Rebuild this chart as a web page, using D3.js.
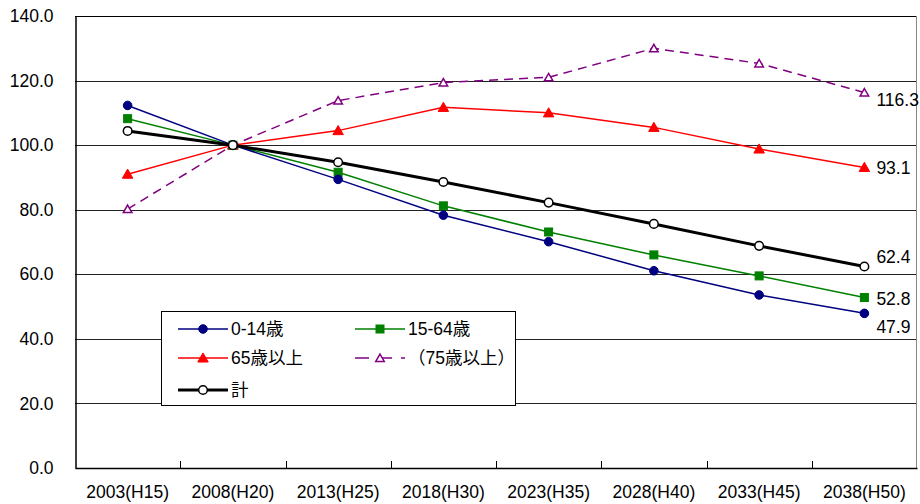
<!DOCTYPE html>
<html><head><meta charset="utf-8">
<script src="https://cdn.jsdelivr.net/npm/d3@7"></script>
<style>
body{margin:0;background:#fff;}
text{font-family:"Liberation Sans",Arial,"Noto Sans CJK JP",sans-serif;fill:#000;}
</style></head>
<body><svg id="c" width="920" height="504"></svg>
<script>
const categories = ["2003(H15)","2008(H20)","2013(H25)","2018(H30)","2023(H35)","2028(H40)","2033(H45)","2038(H50)"];
const yTicks = [0,20,40,60,80,100,120,140];
const age0_14  = [112.3,100,89.4,78.3,70.1,61.1,53.6,47.9];
const age15_64 = [108.2,100,91.6,81.2,73.1,66.0,59.5,52.8];
const age65    = [91.0,100,104.5,111.7,110.0,105.5,98.8,93.1];
const age75    = [80.2,100,113.8,119.4,121.0,130.0,125.3,116.3];
const total    = [104.4,100,94.7,88.6,82.2,75.6,68.8,62.4];
const seriesNames = ["0-14歳","15-64歳","65歳以上","（75歳以上）","計"];

const series = [
  {name:seriesNames[0], v:age0_14, color:"#000080", w:1.5, marker:"circle", fill:"#000080", dash:null, lab:{dy:14}},
  {name:seriesNames[1], v:age15_64, color:"#008000", w:1.5, marker:"square", fill:"#008000", dash:null, lab:{dy:1}},
  {name:seriesNames[2], v:age65, color:"#ff0000", w:1.5, marker:"triangle", fill:"#ff0000", dash:null, lab:{dy:0}},
  {name:seriesNames[3], v:age75, color:"#800080", w:1.5, marker:"triangle", fill:"#fff", dash:"9,6", lab:{dy:7}},
  {name:seriesNames[4], v:total, color:"#000", w:3, marker:"circle", fill:"#fff", dash:null, lab:{dy:-10}}
];

const FS = 17.5;
const svg = d3.select("#c");
const L=75, R=917, T=16, B=468;
const x = d3.scaleBand().domain(categories).range([L,R]);
const y = d3.scaleLinear().domain([0,140]).range([B,T]);

// gridlines
svg.append("g").selectAll("line").data(yTicks.filter(d=>d>0)).join("line")
  .attr("x1",L).attr("x2",R).attr("y1",d=>Math.round(y(d))+0.5).attr("y2",d=>Math.round(y(d))+0.5)
  .attr("stroke",d=>d===140?"#000":"#222").attr("stroke-width",1);
// right border
svg.append("line").attr("x1",R-0.5).attr("x2",R-0.5).attr("y1",T).attr("y2",B).attr("stroke","#888");

// y axis
const ya = svg.append("g").attr("transform",`translate(${L+0.5},0)`)
  .call(d3.axisLeft(y).tickValues(yTicks).tickFormat(d3.format(".1f")).tickSize(0).tickPadding(22));
ya.select(".domain").attr("stroke","#000").attr("stroke-width",1.5);
ya.selectAll("text").attr("font-size",FS);

// x axis
const xa = svg.append("g").attr("transform",`translate(0,${B})`)
  .call(d3.axisBottom(x).tickSize(0).tickPadding(0));
xa.select(".domain").attr("stroke","#000").attr("stroke-width",1.5);
xa.selectAll("text").attr("font-size",FS).attr("dy",null).attr("y",30);
// inner ticks at band boundaries
svg.append("g").selectAll("line").data(categories.slice(1)).join("line")
  .attr("x1",d=>Math.round(x(d))+0.5).attr("x2",d=>Math.round(x(d))+0.5)
  .attr("y1",B).attr("y2",B-7).attr("stroke","#000");

const cx = d=>x(d)+x.bandwidth()/2;
const line = d3.line().x((d,i)=>cx(categories[i])).y(d=>y(d));

function drawMarker(g, s, px, py){
  if(s.marker==="circle"){
    g.append("circle").attr("cx",px).attr("cy",py).attr("r",4.3)
      .attr("fill",s.fill).attr("stroke",s.color).attr("stroke-width",s.fill==="#fff"?1.5:1);
  } else if(s.marker==="square"){
    g.append("rect").attr("x",px-4).attr("y",py-4).attr("width",8).attr("height",8)
      .attr("fill",s.fill).attr("stroke",s.color);
  } else {
    const sym = d3.symbol().type(d3.symbolTriangle).size(s.fill==="#fff"?32:48);
    g.append("path").attr("d",sym()).attr("transform",`translate(${px},${py+1})`)
      .attr("fill",s.fill).attr("stroke",s.color).attr("stroke-width",s.fill==="#fff"?1.5:1);
  }
}

const order=[3,2,1,0,4];
order.forEach(k=>{
  const s=series[k];
  const g=svg.append("g");
  g.append("path").attr("d",line(s.v)).attr("fill","none").attr("stroke",s.color)
    .attr("stroke-width",s.w).attr("stroke-dasharray",s.dash);
  s.v.forEach((v,i)=>drawMarker(g,s,cx(categories[i]),y(v)));
  const last=s.v.length-1;
  g.append("text").attr("x",cx(categories[last])+12).attr("y",y(s.v[last])+s.lab.dy)
    .attr("dy","0.35em").attr("font-size",FS).text(d3.format(".1f")(s.v[last]));
});

// legend
const lg = svg.append("g");
lg.append("rect").attr("x",161.5).attr("y",311.5).attr("width",354).attr("height",94)
  .attr("fill","#fff").attr("stroke","#000");
const pos=[[178,329],[355,329],[178,358],[355,358],[178,390]];
series.forEach((s,i)=>{
  const [lx,ly]=pos[i];
  lg.append("line").attr("x1",lx).attr("x2",lx+50).attr("y1",ly).attr("y2",ly)
    .attr("stroke",s.color).attr("stroke-width",s.w).attr("stroke-dasharray",s.dash?"14,9":null);
  drawMarker(lg,s,lx+25,ly);
  lg.append("text").attr("x",lx+53).attr("y",ly).attr("dy","0.36em").attr("font-size",FS)
    .text(s.name);
});
</script></body></html>
